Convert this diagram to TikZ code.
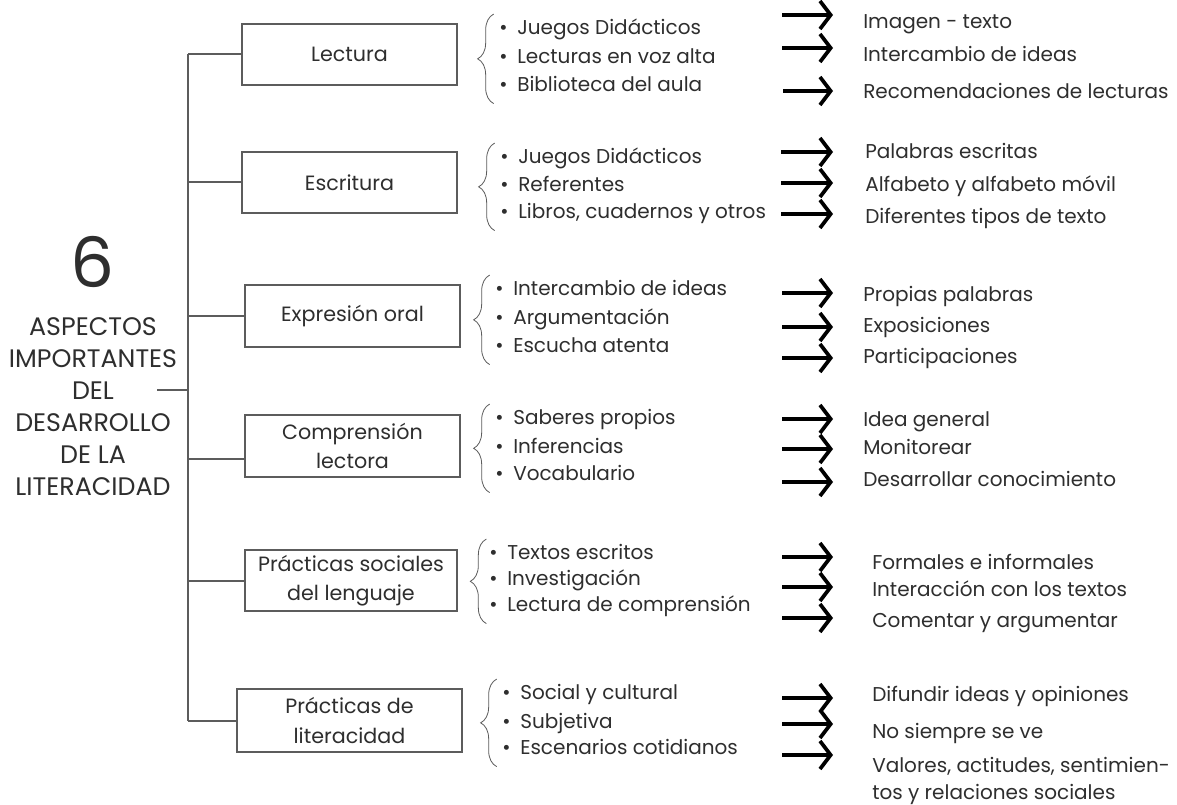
\documentclass[tikz,border=0pt]{standalone}
\usepackage{fontspec}
\setmainfont{Poppins}
\usetikzlibrary{arrows.meta,decorations.pathreplacing}
\definecolor{ink}{HTML}{2E2E2E}
\definecolor{trazo}{HTML}{5C5C5C}
\newcommand{\bul}{\makebox[13.5pt][l]{•}}

\begin{document}
\begin{tikzpicture}[x=0.75pt, y=-0.75pt, text=ink, font=\fontsize{15}{18}\selectfont]
\tikzstyle{bx} = [draw=trazo, line width=1.5pt, minimum width=161pt, minimum height=46pt, align=center, font=\fontsize{15.5}{22}\selectfont]
\tikzstyle{it} = [anchor=west, inner sep=0pt, text height=11pt, text depth=3pt]
\tikzstyle{rs} = [anchor=west, inner sep=0pt, text height=11pt, text depth=3pt]
\tikzstyle{ln} = [draw=trazo, line width=1.5pt]
\tikzstyle{br} = [draw=trazo, line width=0.6pt, decorate, decoration={brace, amplitude=12pt}]
\tikzstyle{ar} = [draw=black, line width=2.8pt, -{Straight Barb[length=8pt, width=21pt]}]

\useasboundingbox[fill=white] (0,0) rectangle (1177,805);

% titulo
\node[font=\fontsize{52}{52}\selectfont] (num) at (93,262) {6};
\node[align=center, font=\fontsize{19}{24}\selectfont] (tit) at (93,407) {ASPECTOS\\IMPORTANTES\\DEL\\DESARROLLO\\DE LA\\LITERACIDAD};

% cajas
\node[bx] (b1) at (349.5,54.5) {Lectura};
\node[bx] (b2) at (349.5,182.5) {Escritura};
\node[bx] (b3) at (352.5,316) {Expresión oral};
\node[bx] (b4) at (352.5,446) {Comprensión\\lectora};
\node[bx, minimum width=159pt] (b5) at (351,580.5) {Prácticas sociales\\del lenguaje};
\node[bx, minimum width=169pt, minimum height=47pt] (b6) at (349.5,720.5) {Prácticas de\\literacidad};

% tronco
\coordinate (tk) at (188,0);
\coordinate (tl) at (157,390);
\draw[ln] (b1.west -| tk) -- (b6.west -| tk);
\draw[ln] (tl) -- (tl -| tk);
\draw[ln] (b1.west -| tk) -- (b1.west);
\draw[ln] (b2.west -| tk) -- (b2.west);
\draw[ln] (b3.west -| tk) -- (b3.west);
\draw[ln] ([yshift=-9.75pt]b4.west -| tk) -- ([yshift=-9.75pt]b4.west);
\draw[ln] (b5.west -| tk) -- (b5.west);
\draw[ln] (b6.west -| tk) -- (b6.west);

% lectura
\node[it] (i11) at (499,29) {\bul Juegos Didácticos};
\node[it] (i12) at (499,58) {\bul Lecturas en voz alta};
\node[it] (i13) at (499,86) {\bul Biblioteca del aula};
% escritura
\node[it] (i21) at (500,158) {\bul Juegos Didácticos};
\node[it] (i22) at (500,186) {\bul Referentes};
\node[it] (i23) at (500,213) {\bul Libros, cuadernos y otros};
% expresion oral
\node[it] (i31) at (495,290) {\bul Intercambio de ideas};
\node[it] (i32) at (495,319) {\bul Argumentación};
\node[it] (i33) at (495,347) {\bul Escucha atenta};
% comprension lectora
\node[it] (i41) at (495,419) {\bul Saberes propios};
\node[it] (i42) at (495,448) {\bul Inferencias};
\node[it] (i43) at (495,475) {\bul Vocabulario};
% practicas sociales
\node[it] (i51) at (489,554) {\bul Textos escritos};
\node[it] (i52) at (489,580) {\bul Investigación};
\node[it] (i53) at (489,606) {\bul Lectura de comprensión};
% practicas de literacidad
\node[it] (i61) at (502,694) {\bul Social y cultural};
\node[it] (i62) at (502,723) {\bul Subjetiva};
\node[it] (i63) at (502,749) {\bul Escenarios cotidianos};

% llaves
\draw[br] ([xshift=-4pt,yshift=-6pt]i13.south west) -- ([xshift=-4pt,yshift=4pt]i11.north west);
\draw[br] ([xshift=-4pt,yshift=-6pt]i23.south west) -- ([xshift=-4pt,yshift=4pt]i21.north west);
\draw[br] ([xshift=-4pt,yshift=-6pt]i33.south west) -- ([xshift=-4pt,yshift=4pt]i31.north west);
\draw[br] ([xshift=-4pt,yshift=-6pt]i43.south west) -- ([xshift=-4pt,yshift=4pt]i41.north west);
\draw[br] ([xshift=-2pt,yshift=-6pt]i53.south west) -- ([xshift=-2pt,yshift=4pt]i51.north west);
\draw[br] ([xshift=-4pt,yshift=-6pt]i63.south west) -- ([xshift=-4pt,yshift=4pt]i61.north west);

% flechas
\coordinate (ae) at (833,0);
\coordinate (a11) at (782,15);
\coordinate (a12) at (782,48);
\coordinate (a13) at (783,91);
\coordinate (a21) at (781,152);
\coordinate (a22) at (781,183);
\coordinate (a23) at (781,214);
\coordinate (a31) at (782,293);
\coordinate (a32) at (782,327);
\coordinate (a33) at (782,358);
\coordinate (a41) at (782,419);
\coordinate (a42) at (782,449);
\coordinate (a43) at (782,482);
\coordinate (a51) at (782,557);
\coordinate (a52) at (782,587);
\coordinate (a53) at (782,618);
\coordinate (a61) at (782,698);
\coordinate (a62) at (782,724);
\coordinate (a63) at (782,755);
\draw[ar] (a11) -- (a11 -| ae);
\draw[ar] (a12) -- (a12 -| ae);
\draw[ar] (a13) -- (a13 -| ae);
\draw[ar] (a21) -- (a21 -| ae);
\draw[ar] (a22) -- (a22 -| ae);
\draw[ar] (a23) -- (a23 -| ae);
\draw[ar] (a31) -- (a31 -| ae);
\draw[ar] (a32) -- (a32 -| ae);
\draw[ar] (a33) -- (a33 -| ae);
\draw[ar] (a41) -- (a41 -| ae);
\draw[ar] (a42) -- (a42 -| ae);
\draw[ar] (a43) -- (a43 -| ae);
\draw[ar] (a51) -- (a51 -| ae);
\draw[ar] (a52) -- (a52 -| ae);
\draw[ar] (a53) -- (a53 -| ae);
\draw[ar] (a61) -- (a61 -| ae);
\draw[ar] (a62) -- (a62 -| ae);
\draw[ar] (a63) -- (a63 -| ae);

% resultados
\node[rs] (r11) at (863,23) {Imagen - texto};
\node[rs] (r12) at (863,56) {Intercambio de ideas};
\node[rs] (r13) at (863,93) {Recomendaciones de lecturas};
\node[rs] (r21) at (865,153) {Palabras escritas};
\node[rs] (r22) at (865,186) {Alfabeto y alfabeto móvil};
\node[rs] (r23) at (865,218) {Diferentes tipos de texto};
\node[rs] (r31) at (863,296) {Propias palabras};
\node[rs] (r32) at (863,327) {Exposiciones};
\node[rs] (r33) at (863,358) {Participaciones};
\node[rs] (r41) at (863,421) {Idea general};
\node[rs] (r42) at (863,449) {Monitorear};
\node[rs] (r43) at (863,481) {Desarrollar conocimiento};
\node[rs] (r51) at (872,564) {Formales e informales};
\node[rs] (r52) at (872,591) {Interacción con los textos};
\node[rs] (r53) at (872,622) {Comentar y argumentar};
\node[rs] (r61) at (872,696) {Difundir ideas y opiniones};
\node[rs] (r62) at (872,733) {No siempre se ve};
\node[anchor=north west, inner sep=0pt, align=left, font=\fontsize{15}{20}\selectfont] (r63) at (872,757) {Valores, actitudes, sentimien-\\tos y relaciones sociales};
\end{tikzpicture}
\end{document}
